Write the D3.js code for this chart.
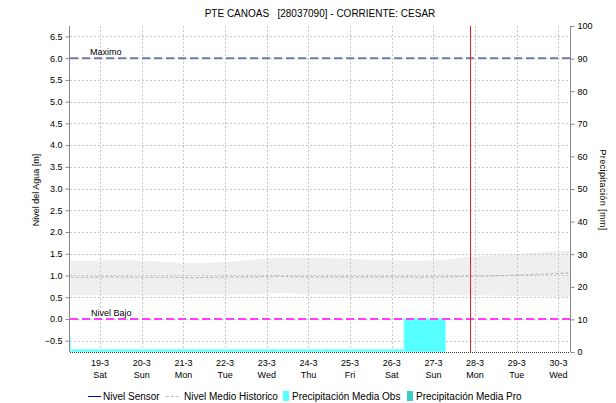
<!DOCTYPE html>
<html><head><meta charset="utf-8">
<script src="https://cdn.jsdelivr.net/npm/d3@7"></script>
<style>
body{margin:0;background:#fff;}
svg text{font-family:"Liberation Sans",Arial,sans-serif;fill:#000;white-space:pre;}
</style></head>
<body><svg id="c" width="616" height="403"></svg>
<script>
// ---- data ----
const title = "PTE CANOAS   [28037090] - CORRIENTE: CESAR";
const bandTimes = ["2022-03-18T07:00","2022-03-18T19:00","2022-03-19T07:00","2022-03-19T19:00","2022-03-20T07:00","2022-03-20T19:00","2022-03-21T07:00","2022-03-21T19:00","2022-03-22T07:00","2022-03-22T19:00","2022-03-23T07:00","2022-03-23T19:00","2022-03-24T07:00","2022-03-24T19:00","2022-03-25T07:00","2022-03-25T19:00","2022-03-26T07:00","2022-03-26T19:00","2022-03-27T07:00","2022-03-27T19:00","2022-03-28T07:00","2022-03-28T19:00","2022-03-29T07:00","2022-03-29T19:00","2022-03-30T07:00"];
const histUpper = [1.34,1.34,1.35,1.35,1.33,1.30,1.28,1.30,1.33,1.38,1.40,1.40,1.40,1.39,1.37,1.35,1.34,1.34,1.36,1.42,1.46,1.48,1.52,1.55,1.57];
const histLower = [0.55,0.55,0.55,0.55,0.55,0.55,0.56,0.56,0.56,0.57,0.60,0.58,0.56,0.56,0.56,0.56,0.55,0.55,0.55,0.54,0.54,0.53,0.52,0.51,0.50];
const histMean  = [0.96,0.96,0.97,0.96,0.96,0.96,0.95,0.96,0.97,0.97,0.98,0.97,0.97,0.97,0.97,0.97,0.97,0.96,0.97,0.98,0.99,1.00,1.02,1.04,1.06];
const sensorTimes = [];
const sensorLevel = [];
const precipStart = ["2022-03-17T07:00","2022-03-18T07:00","2022-03-19T07:00","2022-03-20T07:00","2022-03-21T07:00","2022-03-22T07:00","2022-03-23T07:00","2022-03-24T07:00","2022-03-25T07:00","2022-03-26T07:00"];
const precipObs = [4.5,0.8,0.8,0.8,0.8,0.8,0.8,0.8,0.8,10.2];
const precipPro = [];
const nivelMaximo = 6.0;
const nivelBajo = 0.0;
const nowTime = "2022-03-27T21:00";
const levelTicks = [-0.5,0,0.5,1,1.5,2,2.5,3,3.5,4,4.5,5,5.5,6,6.5];
const precipTicks = [0,10,20,30,40,50,60,70,80,90,100];
const legendLabels = ["Nivel Sensor","Nivel Medio Historico","Precipitación Media Obs","Precipitación Media Pro"];

// ---- layout ----
const P = {l:70, r:570, t:26, b:352};
const parse = d3.utcParse("%Y-%m-%dT%H:%M");
const svg = d3.select("#c");
const x = d3.scaleUtc().domain([parse("2022-03-18T06:40"), parse("2022-03-30T06:40")]).range([P.l, P.r]);
const y = d3.scaleLinear().domain([-0.76, 6.74]).range([P.b, P.t]);
const y2 = d3.scaleLinear().domain([0, 100]).range([P.b, P.t]);

svg.append("defs").append("clipPath").attr("id","clip")
  .append("rect").attr("x",P.l).attr("y",P.t).attr("width",P.r-P.l).attr("height",P.b-P.t);
const plot = svg.append("g").attr("clip-path","url(#clip)");

// band
const band = bandTimes.map((t,i)=>({t:parse(t),lo:histLower[i],hi:histUpper[i],m:histMean[i]}));
plot.append("path").datum(band)
  .attr("d", d3.area().x(d=>x(d.t)).y0(d=>y(d.lo)).y1(d=>y(d.hi)))
  .attr("fill","#efefef");

// grid
const days = d3.utcDay.range(parse("2022-03-19T00:00"), parse("2022-03-31T00:00"));
plot.selectAll(".vg").data(days).join("line")
  .attr("x1",d=>Math.round(x(d))+0.5).attr("x2",d=>Math.round(x(d))+0.5)
  .attr("y1",P.t).attr("y2",P.b)
  .attr("stroke","#c8c8c8").attr("stroke-dasharray","2,2");
plot.selectAll(".hg").data(levelTicks).join("line")
  .attr("x1",P.l).attr("x2",P.r)
  .attr("y1",d=>Math.round(y(d))+0.5).attr("y2",d=>Math.round(y(d))+0.5)
  .attr("stroke","#c8c8c8").attr("stroke-dasharray","2,2");

// mean line
plot.append("path").datum(band)
  .attr("d", d3.line().x(d=>x(d.t)).y(d=>y(d.m)))
  .attr("fill","none").attr("stroke","#b8b8b8").attr("stroke-width",1.2).attr("stroke-dasharray","3,2");

// sensor line (no data in range)
plot.append("path").datum(sensorTimes.map((t,i)=>({t:parse(t),v:sensorLevel[i]})))
  .attr("d", d3.line().x(d=>x(d.t)).y(d=>y(d.v)))
  .attr("fill","none").attr("stroke","#0000cc");

// precip bars
const bars = precipStart.map((t,i)=>({s:parse(t),e:d3.utcDay.offset(parse(t),1),v:precipObs[i]}));
plot.selectAll(".bar").data(bars).join("rect")
  .attr("x",d=>x(d.s)).attr("width",d=>x(d.e)-x(d.s))
  .attr("y",d=>y2(d.v)).attr("height",d=>y2(0)-y2(d.v))
  .attr("fill","#55ffff").attr("stroke","#a8ffff").attr("stroke-width",1);

// reference lines
plot.append("line").attr("x1",P.l).attr("x2",P.r).attr("y1",y(nivelMaximo)).attr("y2",y(nivelMaximo))
  .attr("stroke","#6c7aaa").attr("stroke-width",2).attr("stroke-dasharray","8,4");
plot.append("line").attr("x1",P.l).attr("x2",P.r).attr("y1",y(nivelBajo)).attr("y2",y(nivelBajo))
  .attr("stroke","#ff3dff").attr("stroke-width",2).attr("stroke-dasharray","8,4");
svg.append("text").attr("x",90).attr("y",y(nivelMaximo)-3).attr("font-size",9).text("Maximo");
svg.append("text").attr("x",91).attr("y",y(nivelBajo)-3).attr("font-size",9).text("Nivel Bajo");

// now line
const nx = Math.round(x(parse(nowTime)))+0.5;
plot.append("line").attr("x1",nx).attr("x2",nx)
  .attr("y1",P.t).attr("y2",P.b).attr("stroke","#ee2222").attr("stroke-width",1);

// axes
const ga = svg.append("g").attr("transform",`translate(${P.l - 0.5},0)`)
  .call(d3.axisLeft(y).tickValues(levelTicks).tickFormat(d3.format(".1f")).tickSize(4).tickPadding(3));
ga.select(".domain").attr("stroke","#888").attr("d",`M0,${P.t}V${P.b}`);
ga.selectAll(".tick line").attr("stroke","#888");
ga.selectAll("text").attr("font-size",9).attr("font-family","Liberation Sans, Arial");

const gr = svg.append("g").attr("transform",`translate(${P.r + 0.5},0)`)
  .call(d3.axisRight(y2).tickValues(precipTicks).tickSize(4).tickPadding(3));
gr.select(".domain").attr("stroke","#888").attr("d",`M0,${P.t}V${P.b}`);
gr.selectAll(".tick line").attr("stroke","#888");
gr.selectAll("text").attr("font-size",9).attr("font-family","Liberation Sans, Arial");

// bottom axis line (dotted)
svg.append("line").attr("x1",P.l).attr("x2",P.r).attr("y1",P.b+0.5).attr("y2",P.b+0.5)
  .attr("stroke","#333").attr("stroke-dasharray","1,1");

const fmtD = d3.utcFormat("%-d-%-m"), fmtW = d3.utcFormat("%a");
const xt = svg.append("g");
xt.selectAll(".d").data(days).join("text").attr("x",d=>x(d)).attr("y",366)
  .attr("text-anchor","middle").attr("font-size",9).text(fmtD);
xt.selectAll(".w").data(days).join("text").attr("x",d=>x(d)).attr("y",378)
  .attr("text-anchor","middle").attr("font-size",9).text(fmtW);

// titles
svg.append("text").attr("x",(P.l+P.r)/2).attr("y",17).attr("text-anchor","middle").attr("font-size",10).text(title);
svg.append("text").attr("transform","translate(39,190) rotate(-90)").attr("text-anchor","middle").attr("font-size",9).text("Nivel del Agua [m]");
svg.append("text").attr("transform","translate(600,190) rotate(90)").attr("text-anchor","middle").attr("font-size",9).attr("letter-spacing",0.4).text("Precipitación [mm]");

// legend
const lg = svg.append("g");
const ly = 396;
lg.append("line").attr("x1",88).attr("x2",101).attr("y1",ly+0.5).attr("y2",ly+0.5).attr("stroke","#0000cc");
lg.append("text").attr("x",103).attr("y",ly+3.5).attr("font-size",10).text(legendLabels[0]);
lg.append("line").attr("x1",166).attr("x2",180).attr("y1",ly+0.5).attr("y2",ly+0.5).attr("stroke","#bdbdbd").attr("stroke-dasharray","3,2");
lg.append("text").attr("x",184).attr("y",ly+3.5).attr("font-size",10).text(legendLabels[1]);
lg.append("rect").attr("x",283).attr("y",ly-5).attr("width",6).attr("height",10).attr("fill","#55ffff");
lg.append("text").attr("x",292).attr("y",ly+3.5).attr("font-size",10).text(legendLabels[2]);
lg.append("rect").attr("x",407).attr("y",ly-5).attr("width",6).attr("height",10).attr("fill","#3ccfc7");
lg.append("text").attr("x",416).attr("y",ly+3.5).attr("font-size",10).text(legendLabels[3]);
</script></body></html>
